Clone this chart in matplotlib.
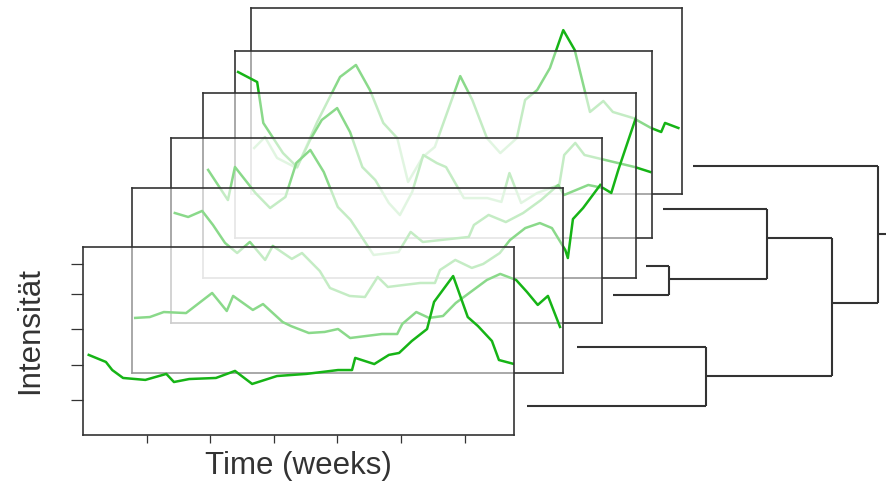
import matplotlib
matplotlib.use('Agg')
import matplotlib.pyplot as plt

plt.rcParams['font.family'] = ['Liberation Sans', 'DejaVu Sans']

W, H = 887, 483
fig = plt.figure(figsize=(W / 100, H / 100), dpi=100)

# ---------------- data (weeks, intensity) ----------------
weeks_1 = [0.9, 3.6, 4.6, 6.3, 9.8, 13.1, 14.3, 16.7, 20.9, 23.9, 26.6, 30.5, 35.1, 40.1,
           42.3, 42.8, 45.8, 48.1, 49.7, 51.7, 54.1, 55.2, 58.2, 60.5, 62.1, 64.3, 65.4, 67.8]
inten_1 = [4.55, 4.15, 3.69, 3.24, 3.13, 3.47, 3.01, 3.18, 3.24, 3.64, 2.90, 3.35, 3.47, 3.69,
           3.69, 4.38, 4.03, 4.55, 4.66, 5.34, 6.02, 7.56, 9.03, 6.70, 6.19, 5.34, 4.26, 4.03]

weeks_2 = [0.5, 2.8, 5.0, 8.5, 12.6, 14.9, 15.9, 19.0, 20.6, 23.7, 25.0, 27.8, 30.3, 32.4, 34.3,
           36.9, 39.3, 41.7, 42.5, 44.7, 46.7, 48.9, 50.9, 55.8, 57.9, 60.4, 62.1, 63.8, 65.4, 67.3]
inten_2 = [3.18, 3.23, 3.52, 3.46, 4.62, 3.58, 4.45, 3.64, 3.98, 2.94, 2.71, 2.31, 2.37, 2.54, 2.02,
           2.14, 2.25, 2.25, 2.83, 3.52, 3.18, 3.29, 4.04, 5.37, 5.72, 5.37, 4.68, 3.93, 4.45, 2.66]

weeks_3 = [0.6, 2.7, 4.9, 6.6, 8.5, 10.4, 12.4, 14.8, 16.0, 19.0, 20.6, 23.4, 25.0, 28.1, 30.5,
           32.5, 34.1, 36.5, 39.2, 41.5, 42.3, 44.7, 47.3, 49.1, 51.7, 53.3, 55.7, 58.0, 59.9,
           62.0, 62.4, 63.2, 64.8, 67.5]
inten_3 = [6.35, 6.12, 6.47, 5.66, 4.62, 4.04, 4.68, 3.64, 4.45, 3.70, 4.04, 3.00, 2.02, 1.56, 1.50,
           2.66, 2.08, 2.19, 2.31, 2.31, 3.06, 3.64, 3.18, 3.41, 4.04, 4.79, 5.48, 5.77, 5.48,
           4.21, 3.75, 6.00, 6.64, 7.97]

weeks_4 = [0.8, 3.9, 5.0, 8.2, 10.5, 12.9, 14.6, 16.8, 18.9, 21.1, 23.1, 26.7, 30.6, 32.5, 34.4,
           41.6, 42.4, 44.7, 47.4, 50.1, 52.9, 55.6, 56.5, 60.3, 62.6, 63.9, 65.0, 67.8]
inten_4 = [6.24, 4.50, 6.41, 4.91, 4.04, 4.68, 6.64, 7.39, 6.12, 4.10, 3.35, 1.33, 1.50, 2.66, 2.08,
           2.37, 3.06, 3.64, 3.23, 3.75, 4.50, 5.37, 4.79, 5.37, 5.20, 4.91, 6.24, 9.30]

weeks_5 = [0.5, 3.6, 4.6, 7.8, 10.1, 12.2, 14.1, 16.6, 18.7, 20.7, 22.8, 25.0, 26.8, 28.8, 30.6,
           32.8, 34.3, 37.2, 41.0, 43.3, 44.6, 46.5, 49.1, 52.7, 53.5, 55.3, 56.8, 65.0, 67.5]
inten_5 = [9.48, 8.91, 6.57, 4.85, 4.05, 5.60, 6.74, 7.42, 6.05, 4.05, 3.31, 2.00, 1.31, 2.63, 4.74,
           4.28, 4.05, 2.28, 2.28, 2.06, 3.71, 2.00, 2.57, 3.03, 4.74, 5.43, 4.74, 4.05, 3.77]

weeks_6 = [0.5, 2.2, 4.1, 7.2, 10.4, 14.0, 16.5, 18.7, 20.8, 23.0, 24.7, 27.0, 28.9, 32.9, 34.8,
           37.1, 39.2, 41.8, 43.1, 45.0, 47.0, 49.1, 50.9, 53.3, 55.4, 56.9, 60.1, 62.9, 64.5,
           65.1, 67.2]
inten_6 = [2.64, 3.27, 2.07, 1.49, 4.13, 6.72, 7.41, 5.97, 4.08, 3.21, 0.69, 2.12, 2.70, 6.77, 5.40,
           3.21, 2.35, 3.21, 5.40, 5.97, 7.23, 9.41, 8.27, 4.71, 5.34, 4.71, 4.36, 3.79, 3.56,
           4.08, 3.79]

series = [(weeks_1, inten_1), (weeks_2, inten_2), (weeks_3, inten_3),
          (weeks_4, inten_4), (weeks_5, inten_5), (weeks_6, inten_6)]

x_ticks = [10, 20, 30, 40, 50, 60]
y_ticks = [2, 4, 6, 8, 9.7]

# dendrogram data (leaf i belongs to panel i)
leaf_start = [2.7, 7.7, 11.3, 14.6, 16.3, 19.3]
leaf_pos = [1.4, 7.3, 12.5, 15.4, 21.1, 25.4]
# (child a, child b, merge distance, node position)
merges = [(2, 3, 16.9, 14.1), (4, 6, 26.7, 18.2), (0, 1, 20.6, 4.4),
          (7, 8, 33.2, 11.7), (5, 9, 37.8, 18.6)]
root_end = 39.5

# ---------------- layout ----------------
def box(l, t, r, b):
    return [l / W, 1 - b / H, (r - l) / W, (b - t) / H]

panel_px = [(83, 247, 514, 435), (132, 188, 563, 373), (171, 138, 602, 323),
            (203, 93, 636, 278), (235, 51, 652, 238), (251, 8, 682, 194)]

GREEN = '#16b416'
FRAME = '#333333'

for i in reversed(range(6)):
    ax = fig.add_axes(box(*panel_px[i]))
    ax.set_facecolor((1, 1, 1, 0.5))
    xs, ys = series[i]
    ax.plot(xs, ys, color=GREEN, lw=1.8, solid_joinstyle='round')
    ax.set_xlim(0, 67.77)
    ax.set_ylim(0, 10.68)
    for s in ax.spines.values():
        s.set_color(FRAME)
        s.set_linewidth(1.2)
    if i == 0:
        ax.set_xticks(x_ticks)
        ax.set_yticks(y_ticks)
        ax.tick_params(axis='y', length=8.5, width=0.9, color=FRAME, labelleft=False)
        ax.tick_params(axis='x', length=5.5, width=0.9, color=FRAME, labelbottom=False)
    else:
        ax.set_xticks([])
        ax.set_yticks([])

fig.text(30 / W, 1 - 331 / H, 'Intensität', rotation=90, ha='center', va='center',
         fontsize=22.5, color='#333333')
fig.text(298 / W, 1 - 466 / H, 'Time (weeks)', ha='center', va='center',
         fontsize=22.5, color='#333333')

# dendrogram
dax = fig.add_axes(box(500, 150, 887, 420))
dax.set_xlim(0, 38.7)
dax.set_ylim(0, 27)
dax.axis('off')
node_x = list(leaf_start)
node_y = list(leaf_pos)
kw = dict(color=FRAME, lw=1.5, solid_capstyle='butt', clip_on=False)
for a, b, d, y in merges:
    dax.plot([node_x[a], d], [node_y[a], node_y[a]], **kw)
    dax.plot([node_x[b], d], [node_y[b], node_y[b]], **kw)
    dax.plot([d, d], [node_y[a], node_y[b]], **kw)
    node_x.append(d)
    node_y.append(y)
dax.plot([node_x[-1], root_end], [node_y[-1], node_y[-1]], **kw)

fig.savefig('out.png', dpi=100)
